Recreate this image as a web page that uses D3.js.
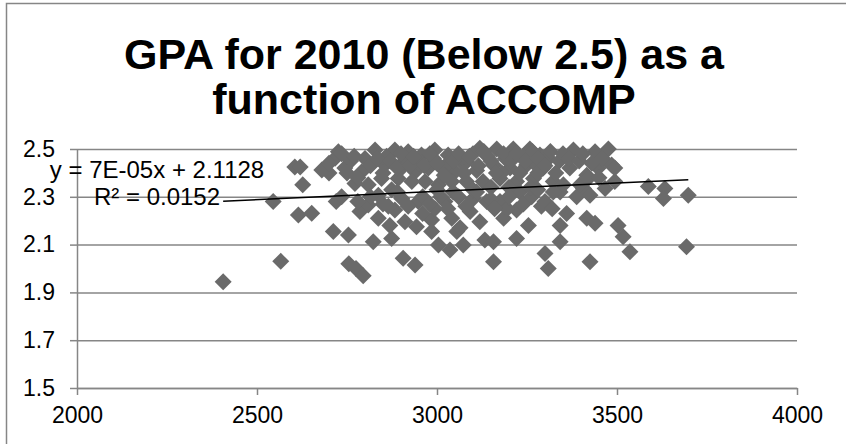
<!DOCTYPE html>
<html>
<head>
<meta charset="utf-8">
<script src="https://cdn.jsdelivr.net/npm/d3@7"></script>
<style>
  body { margin: 0; background: #fff; }
  text { font-family: "Liberation Sans", Arial, sans-serif; }
</style>
</head>
<body>
<div id="chart"></div>
<script>
// values
var xTicks = [2000, 2500, 3000, 3500, 4000];
var yTicks = [1.5, 1.7, 1.9, 2.1, 2.3, 2.5];
var titleLines = ["GPA for 2010 (Below 2.5) as a", "function of ACCOMP"];
var trendSlope = 7e-05;
var trendIntercept = 2.1128;
var trendLabels = ["y = 7E-05x + 2.1128", "R\u00b2 = 0.0152"];

var accomp = [
  2406, 2545, 2566, 2605, 2620, 2627, 2615, 2652, 2680, 2712, 2720, 2717, 2726, 2735,
  2755, 2775, 2795, 2906, 2939, 2754, 2823, 2874, 3004, 3036, 2786, 2809, 2837, 2883,
  2869, 2911, 2943, 2985, 2994, 3022, 3041, 3055, 2837, 2902, 2948, 2735, 2744, 2791,
  2772, 2828, 2883, 2920, 2957, 2994, 3031, 3068, 2855, 2902, 2939, 2976, 3013, 3050,
  2846, 2892, 2930, 2967, 3004, 3041, 2809, 2874, 2760, 2800, 2860, 2910, 2950, 2990,
  3030, 2780, 2960, 3010, 2985, 3157, 3300, 3309, 3425, 3133, 3157, 3221, 3254, 3342,
  3342, 3360, 3073, 3064, 3185, 3221, 3175, 3092, 3119, 3138, 3101, 3263, 3342, 3388,
  3407, 3119, 3166, 3212, 3258, 3286, 3379, 3369, 3416, 3082, 3157, 3203, 3249, 3295,
  3082, 3128, 3175, 3221, 3268, 3323, 3351, 3397, 3230, 3323, 3100, 3140, 3190, 3240,
  3270, 3310, 3340, 3110, 3180, 3230, 3280, 3150, 3200, 3260, 3100, 3536, 3517, 3503,
  3439, 3416, 3693, 3587, 3633, 3629, 3698, 3425, 3467, 3494, 3420, 3485, 3476, 3439,
  3448, 3494, 3460, 2700, 2865, 3045, 3290, 3195,
  2700, 2750, 2770, 2815, 2835, 2850, 2870, 2890, 2900, 2925, 2935, 2965, 2980, 3000,
  3020, 3045, 3060, 3075, 3090, 3115, 3130, 3150, 3165, 3185, 3205, 3220, 3245, 3265,
  3280, 3300, 3315, 3330, 3350, 3365, 3395, 3405, 3430, 3450,
  2850, 2890, 2920, 2960, 2980, 3000, 3030, 3060, 3080, 3110, 3150, 3160, 3200, 3240,
  3280, 3300, 3320, 2815, 2780
];
var gpa = [
  1.945, 2.28, 2.03, 2.425, 2.425, 2.35, 2.224, 2.231, 2.412, 2.155, 2.28, 2.461, 2.489, 2.30,
  2.02, 2.0, 1.97, 2.043, 2.015, 2.14, 2.112, 2.126, 2.098, 2.077, 2.238, 2.266, 2.21, 2.245,
  2.18, 2.196, 2.175, 2.203, 2.25, 2.28, 2.21, 2.155, 2.307, 2.293, 2.28, 2.48, 2.42, 2.405,
  2.356, 2.496, 2.496, 2.489, 2.475, 2.496, 2.475, 2.447, 2.433, 2.42, 2.405, 2.42, 2.42, 2.405,
  2.377, 2.377, 2.364, 2.364, 2.35, 2.364, 2.35, 2.33, 2.45, 2.46, 2.47, 2.45, 2.44, 2.46,
  2.44, 2.38, 2.23, 2.30, 2.155, 2.028, 2.063, 2.0, 2.028, 2.119, 2.112, 2.126, 2.18, 2.112,
  2.18, 2.23, 2.098, 2.17, 2.21, 2.245, 2.28, 2.238, 2.196, 2.28, 2.293, 2.30, 2.32, 2.30,
  2.335, 2.503, 2.50, 2.50, 2.50, 2.475, 2.496, 2.42, 2.39, 2.447, 2.433, 2.42, 2.433, 2.42,
  2.364, 2.364, 2.377, 2.364, 2.377, 2.364, 2.35, 2.35, 2.32, 2.32, 2.48, 2.47, 2.46, 2.47,
  2.44, 2.46, 2.45, 2.41, 2.40, 2.40, 2.40, 2.34, 2.34, 2.34, 2.33, 2.07, 2.133, 2.18,
  2.189, 2.21, 2.091, 2.343, 2.335, 2.293, 2.307, 2.307, 2.335, 2.364, 2.377, 2.433, 2.50, 2.489,
  2.42, 2.42, 2.46, 2.40, 2.26, 2.32, 2.26, 2.25,
  2.44, 2.40, 2.47, 2.43, 2.46, 2.40, 2.45, 2.42, 2.48, 2.43, 2.47, 2.43, 2.48, 2.44,
  2.39, 2.45, 2.48, 2.40, 2.47, 2.43, 2.49, 2.45, 2.40, 2.48, 2.45, 2.48, 2.45, 2.49,
  2.46, 2.43, 2.49, 2.40, 2.48, 2.46, 2.45, 2.48, 2.44, 2.38,
  2.27, 2.32, 2.26, 2.30, 2.27, 2.33, 2.25, 2.30, 2.26, 2.32, 2.29, 2.25, 2.30, 2.27,
  2.33, 2.28, 2.25, 2.30, 2.28
];

var width = 846, height = 444;
var svg = d3.select("#chart").append("svg")
  .attr("width", width)
  .attr("height", height);

svg.append("rect")
  .attr("x", 0).attr("y", 0)
  .attr("width", width).attr("height", height)
  .attr("fill", "#fff");

// chart frame (runs off the right and bottom of the picture)
svg.append("rect")
  .attr("x", 6.5).attr("y", 3.5)
  .attr("width", 900).attr("height", 500)
  .attr("fill", "none")
  .attr("stroke", "#868686")
  .attr("stroke-width", 1.5);

var x = d3.scaleLinear().domain([2000, 4000]).range([77, 797]);
var y = d3.scaleLinear().domain([1.5, 2.5]).range([388, 149]);

// title
svg.selectAll(".title").data(titleLines).enter().append("text")
  .attr("class", "title")
  .attr("x", 424)
  .attr("y", function(d, i) { return 69 + i * 45; })
  .attr("text-anchor", "middle")
  .style("font-size", "43px")
  .style("font-weight", "bold")
  .text(function(d) { return d; });

// horizontal gridlines
var grid = svg.append("g")
  .attr("transform", "translate(77,0)")
  .call(d3.axisRight(y).tickValues(yTicks).tickSize(720).tickFormat(""));
grid.select(".domain").remove();
grid.selectAll("line").attr("stroke", "#868686").attr("stroke-width", 1.5);

// y axis
var yAxis = svg.append("g")
  .attr("transform", "translate(77,0)")
  .call(d3.axisLeft(y).tickValues(yTicks).tickSizeInner(7).tickSizeOuter(0)
    .tickPadding(15).tickFormat(d3.format(".1f")));
yAxis.select(".domain").attr("stroke", "#868686").attr("stroke-width", 1.5);
yAxis.selectAll("line").attr("stroke", "#868686").attr("stroke-width", 1.5);
yAxis.selectAll("text")
  .style("font-size", "23px")
  .style("font-family", "Liberation Sans, Arial, sans-serif")
  .attr("fill", "#000");

// x axis
var xAxis = svg.append("g")
  .attr("transform", "translate(0,388)")
  .call(d3.axisBottom(x).tickValues(xTicks).tickSizeInner(7).tickSizeOuter(0)
    .tickPadding(12).tickFormat(d3.format("d")));
xAxis.select(".domain").attr("stroke", "#868686").attr("stroke-width", 1.5);
xAxis.selectAll("line").attr("stroke", "#868686").attr("stroke-width", 1.5);
xAxis.selectAll("text")
  .style("font-size", "23px")
  .style("font-family", "Liberation Sans, Arial, sans-serif")
  .attr("fill", "#000");

// points
var pts = d3.range(accomp.length).map(function(i) { return [accomp[i], gpa[i]]; });
var diamond = "M0,-8.5L8.5,0L0,8.5L-8.5,0Z";
svg.append("g").selectAll("path").data(pts).enter().append("path")
  .attr("d", diamond)
  .attr("transform", function(d) { return "translate(" + x(d[0]) + "," + y(d[1]) + ")"; })
  .attr("fill", "#6a6a6a");

// trendline over the data's x range
var xmin = d3.min(accomp), xmax = d3.max(accomp);
svg.append("line")
  .attr("x1", x(xmin)).attr("y1", y(trendSlope * xmin + trendIntercept))
  .attr("x2", x(xmax)).attr("y2", y(trendSlope * xmax + trendIntercept))
  .attr("stroke", "#000")
  .attr("stroke-width", 1.5);

svg.selectAll(".trend").data(trendLabels).enter().append("text")
  .attr("class", "trend")
  .attr("x", 157)
  .attr("y", function(d, i) { return 178 + i * 27; })
  .attr("text-anchor", "middle")
  .style("font-size", "24px")
  .text(function(d) { return d; });
</script>
</body>
</html>
